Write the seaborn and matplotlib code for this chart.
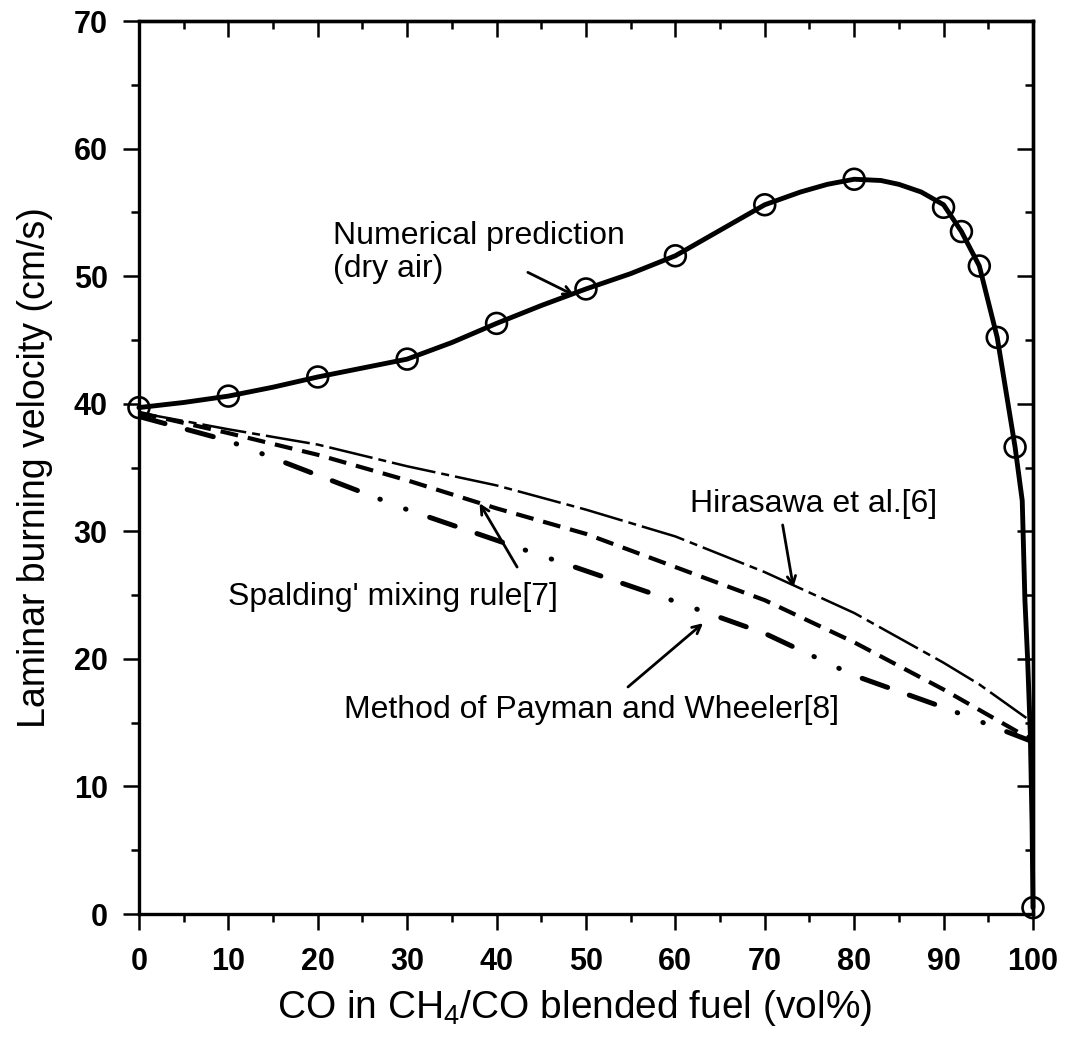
import numpy as np
import pandas as pd
import matplotlib
matplotlib.use("Agg")
import matplotlib.pyplot as plt
import seaborn as sns
from matplotlib.ticker import MultipleLocator

# ---------------- data ----------------
co_pts = [0, 10, 20, 30, 40, 50, 60, 70, 80, 90, 92, 94, 96, 98, 100]
sl_pts = [39.7, 40.6, 42.1, 43.5, 46.3, 49.0, 51.6, 55.6, 57.6, 55.4, 53.5, 50.8, 45.2, 36.6, 0.5]

curve_co = [0, 5, 10, 15, 20, 25, 30, 35, 40, 45, 50, 55, 60, 65, 70, 74, 77, 80, 83,
            85, 87.5, 90, 92, 94, 96, 98, 98.8, 99.1, 99.4, 99.7, 99.9, 100]
curve_sl = [39.7, 40.1, 40.6, 41.3, 42.1, 42.8, 43.5, 44.8, 46.3, 47.7, 49.0, 50.2, 51.6,
            53.6, 55.6, 56.6, 57.2, 57.6, 57.5, 57.2, 56.6, 55.6, 53.5, 50.8, 45.2, 36.6,
            32.4, 24.6, 20.0, 14.2, 7.0, 0.5]

hira_co = [0, 10, 20, 30, 40, 50, 60, 70, 80, 90, 94, 100]
hira_sl = [39.3, 38.0, 36.8, 35.1, 33.6, 31.7, 29.6, 26.8, 23.6, 19.7, 18.0, 15.0]

spal_co = [0, 10, 20, 30, 40, 50, 60, 70, 80, 90, 100]
spal_sl = [39.3, 37.7, 36.0, 34.0, 31.8, 29.8, 27.2, 24.6, 21.3, 17.6, 13.6]

pay_co = [0, 10, 20, 30, 40, 50, 60, 70, 80, 90, 100]
pay_sl = [39.0, 37.1, 34.4, 31.7, 29.3, 26.9, 24.5, 22.0, 18.7, 16.2, 13.5]

x_ticks = [0, 10, 20, 30, 40, 50, 60, 70, 80, 90, 100]
x_ticklabels = ["0", "10", "20", "30", "40", "50", "60", "70", "80", "90", "100"]
y_ticks = [0, 10, 20, 30, 40, 50, 60, 70]
y_ticklabels = ["0", "10", "20", "30", "40", "50", "60", "70"]

# ---------------- style ----------------
sns.set_style("white")
plt.rcParams["font.family"] = ["Liberation Sans", "DejaVu Sans"]
plt.rcParams["mathtext.fontset"] = "custom"
plt.rcParams["mathtext.rm"] = "Liberation Sans"
plt.rcParams["mathtext.it"] = "Liberation Sans:italic"
plt.rcParams["mathtext.bf"] = "Liberation Sans:bold"
plt.rcParams["mathtext.default"] = "regular"
plt.rcParams["text.color"] = "black"
plt.rcParams["axes.labelcolor"] = "black"
plt.rcParams["xtick.color"] = "black"
plt.rcParams["ytick.color"] = "black"
plt.rcParams["axes.edgecolor"] = "black"

fig = plt.figure(figsize=(10.68, 10.42), dpi=100)
ax = fig.add_axes([0.1301, 0.1228, 0.8371, 0.8570])

df_curve = pd.DataFrame({"co": curve_co, "sl": curve_sl})
df_pts = pd.DataFrame({"co": co_pts, "sl": sl_pts})
df_h = pd.DataFrame({"co": hira_co, "sl": hira_sl})
df_s = pd.DataFrame({"co": spal_co, "sl": spal_sl})
df_p = pd.DataFrame({"co": pay_co, "sl": pay_sl})

# Hirasawa: thin dash-dot
sns.lineplot(data=df_h, x="co", y="sl", ax=ax, color="black", lw=1.8, sort=False, estimator=None)
l = ax.lines[-1]
l.set_linestyle((0, (17.8, 2.4, 3.2, 2.4)))
l.set_dash_capstyle("butt")

# Spalding: dashed
sns.lineplot(data=df_s, x="co", y="sl", ax=ax, color="black", lw=3.0, sort=False, estimator=None)
l = ax.lines[-1]
l.set_linestyle((0, (4.3, 2.4)))
l.set_dash_capstyle("butt")

# Payman & Wheeler: long dash, long dash, dot, dot
sns.lineplot(data=df_p, x="co", y="sl", ax=ax, color="black", lw=3.6, sort=False, estimator=None)
l = ax.lines[-1]
l.set_linestyle((0, (5.4, 4.6, 5.4, 4.8, 0.1, 5.4, 0.1, 5.0)))
l.set_dash_capstyle("round")

# Numerical prediction
sns.lineplot(data=df_curve, x="co", y="sl", ax=ax, color="black", lw=3.5, sort=False,
             estimator=None)
ax.lines[-1].set_clip_on(False)
sns.scatterplot(data=df_pts, x="co", y="sl", ax=ax, s=225, facecolor="none",
                edgecolor="black", linewidth=1.9, zorder=5, clip_on=False)

ax.set_xlim(0, 100)
ax.set_ylim(0, 70)

# ticks
ax.set_xticks(x_ticks)
ax.set_xticklabels(x_ticklabels, fontweight="bold", fontsize=22, color="black")
ax.set_yticks(y_ticks)
ax.set_yticklabels(y_ticklabels, fontweight="bold", fontsize=22, color="black")
ax.xaxis.set_minor_locator(MultipleLocator(5))
ax.yaxis.set_minor_locator(MultipleLocator(5))
ax.tick_params(which="major", direction="out", length=11.5, width=1.8, color="black",
               top=False, right=False, bottom=True, left=True)
ax.tick_params(which="minor", direction="out", length=5.8, width=1.8, color="black",
               top=False, right=False, bottom=True, left=True)
ax.tick_params(axis="x", which="major", pad=12)
ax.tick_params(axis="y", which="major", pad=11)

secx = ax.secondary_xaxis("top")
secx.set_xticks(x_ticks)
secx.xaxis.set_minor_locator(MultipleLocator(5))
secx.tick_params(which="major", direction="in", length=11.5, width=1.8, labeltop=False)
secx.tick_params(which="minor", direction="in", length=5.8, width=1.8, labeltop=False)
secy = ax.secondary_yaxis("right")
secy.set_yticks(y_ticks)
secy.yaxis.set_minor_locator(MultipleLocator(5))
secy.tick_params(which="major", direction="in", length=11.5, width=1.8, labelright=False)
secy.tick_params(which="minor", direction="in", length=5.8, width=1.8, labelright=False)

for a in (ax, secx, secy):
    for sp in a.spines.values():
        sp.set_linewidth(2.4)
        sp.set_color("black")

ax.set_xlabel("CO in CH$_4$/CO blended fuel (vol%)", fontsize=28, color="black")
ax.xaxis.set_label_coords(0.487, -0.083)
ax.xaxis.label.set_va("top")
ax.set_ylabel("Laminar burning velocity (cm/s)", fontsize=27, labelpad=15, color="black")

# annotations
fs = 23
ax.text(21.7, 52.5, "Numerical prediction", fontsize=fs, ha="left", va="baseline")
ax.text(21.7, 49.9, "(dry air)", fontsize=fs, ha="left", va="baseline")
ax.text(61.6, 31.5, "Hirasawa et al.[6]", fontsize=fs, ha="left", va="baseline")
ax.text(10.0, 24.2, "Spalding' mixing rule[7]", fontsize=fs, ha="left", va="baseline")
ax.text(22.9, 15.4, "Method of Payman and Wheeler[8]", fontsize=fs, ha="left", va="baseline")

arrow_kw = dict(arrowstyle="->,head_length=0.6,head_width=0.3", lw=2.0, color="black",
                shrinkA=0, shrinkB=0)
ax.annotate("", xy=(48.7, 48.5), xytext=(43.5, 50.3), arrowprops=arrow_kw)
ax.annotate("", xy=(73.2, 25.6), xytext=(72.0, 30.5), arrowprops=arrow_kw)
ax.annotate("", xy=(38.1, 32.2), xytext=(42.3, 27.2), arrowprops=arrow_kw)
ax.annotate("", xy=(63.1, 22.8), xytext=(54.7, 17.8), arrowprops=arrow_kw)

fig.savefig("out.png", dpi=100, facecolor="white")
